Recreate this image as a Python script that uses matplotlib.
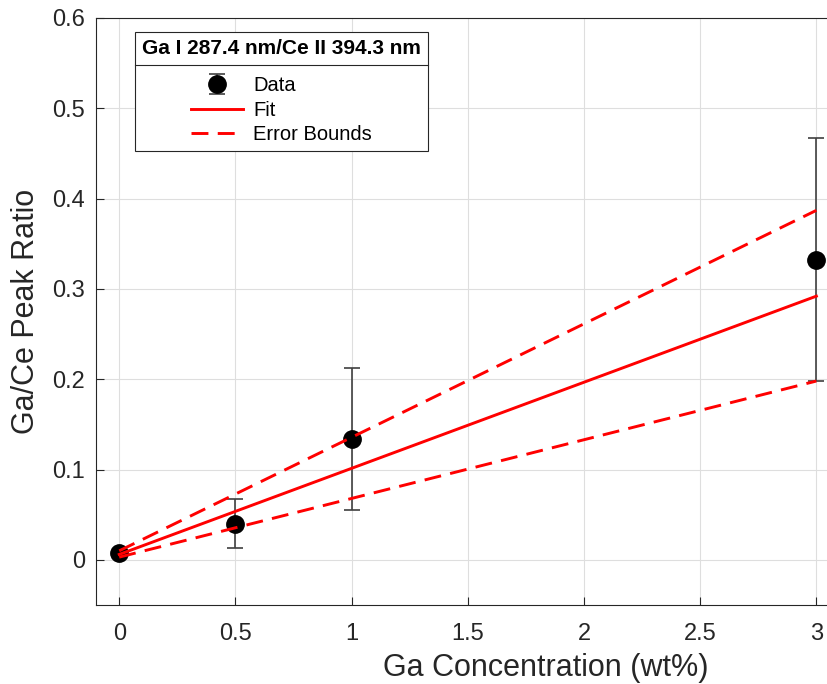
import matplotlib
matplotlib.use("Agg")
import matplotlib.pyplot as plt
from matplotlib.lines import Line2D
import numpy as np

plt.rcParams['font.family'] = ['Liberation Sans', 'DejaVu Sans']

conc = [0, 0.5, 1, 3]
ratio = [0.008, 0.040, 0.134, 0.332]
err_low = [0.0, 0.027, 0.079, 0.134]
err_high = [0.0, 0.027, 0.078, 0.135]

fit_x = [0, 3]
fit_y = [0.006, 0.292]
upper_y = [0.010, 0.387]
lower_y = [0.003, 0.198]

xticks = [0, 0.5, 1, 1.5, 2, 2.5, 3]
yticks = [0, 0.1, 0.2, 0.3, 0.4, 0.5, 0.6]

fig = plt.figure(figsize=(8.28, 6.84), dpi=100)
ax = fig.add_axes([96/828, 1 - 605/684, (996 - 96)/828, (605 - 18)/684])

dark = (0.15, 0.15, 0.15)
ax.grid(True, color=(0.87, 0.87, 0.87), linewidth=0.8)
ax.set_axisbelow(True)

dash = (0, (5.8, 3.2))
ax.plot(fit_x, fit_y, color='red', lw=2.1, label='Fit', zorder=3)
ax.plot(fit_x, upper_y, color='red', lw=2.1, ls=dash, label='Error Bounds', zorder=3)
ax.plot(fit_x, lower_y, color='red', lw=2.1, ls=dash, zorder=3)
eb = ax.errorbar(conc, ratio, yerr=[err_low, err_high], fmt='o', color='black',
                 ecolor=(0.25, 0.25, 0.25), elinewidth=1.2, capsize=6, capthick=1.2,
                 markersize=12.5, label='Data', zorder=2)

ax.set_xlim(-0.1, 3.773)
ax.set_ylim(-0.05, 0.6)
ax.set_xticks(xticks)
ax.set_xticklabels(['0', '0.5', '1', '1.5', '2', '2.5', '3'])
ax.set_yticks(yticks)
ax.set_yticklabels(['0', '0.1', '0.2', '0.3', '0.4', '0.5', '0.6'])
ax.tick_params(direction='in', length=6, colors=dark, labelsize=17)
ax.tick_params(axis='x', pad=13)
ax.tick_params(axis='y', pad=8)
for s in ax.spines.values():
    s.set_color(dark)
    s.set_linewidth(0.8)

ax.set_xlabel('Ga Concentration (wt%)', fontsize=22, color=dark, labelpad=6)
ax.set_ylabel('Ga/Ce Peak Ratio', fontsize=22, color=dark, labelpad=8)

handles, labels = ax.get_legend_handles_labels()
order = [labels.index('Data'), labels.index('Fit'), labels.index('Error Bounds')]
leg = ax.legend([handles[i] for i in order], [labels[i] for i in order],
                title='Ga I 287.4 nm/Ce II 394.3 nm',
                title_fontproperties={'weight': 'bold', 'size': 15},
                fontsize=14.5, loc='upper left', bbox_to_anchor=(39/900, 1 - 14/587),
                fancybox=False, edgecolor=dark, framealpha=1,
                handlelength=2.6, handletextpad=0.5, labelspacing=0.28,
                borderpad=0.35, borderaxespad=0)
leg.get_frame().set_linewidth(0.8)
leg._legend_box.align = "center"
leg._legend_box.sep = 13

fig.canvas.draw()
frame = leg.get_frame().get_window_extent()
tb = leg.get_title().get_window_extent()
ysep = tb.y0 - 7
inv = fig.transFigure.inverted()
(x0, y0) = inv.transform((frame.x0, ysep))
(x1, _) = inv.transform((frame.x1, ysep))
fig.add_artist(Line2D([x0, x1], [y0, y0], color=dark, lw=0.8, zorder=10))

fig.savefig('out.png', dpi=100)
